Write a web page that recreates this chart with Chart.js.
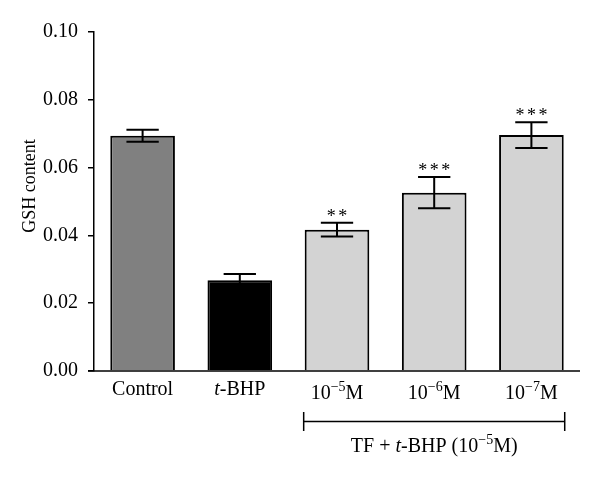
<!DOCTYPE html>
<html>
<head>
<meta charset="utf-8">
<script src="https://cdn.jsdelivr.net/npm/chart.js@4"></script>
<style>
  html, body { margin: 0; padding: 0; background: #fff; }
  #wrap { width: 600px; height: 480px; }
</style>
</head>
<body>
<div id="wrap"><canvas id="gshChart" width="600" height="480"></canvas></div>
<script>
// _x_ = italic, ^x^ = superscript
const categories = ['Control', '_t_-BHP', '10^−5^M', '10^−6^M', '10^−7^M'];
const gshMeans = [0.0694, 0.0268, 0.0417, 0.0526, 0.0696];
const gshErrors = [0.0018, 0.0018, 0.0020, 0.0046, 0.0038];
const significance = ['', '', '**', '***', '***'];
const barColors = ['#808080', '#000000', '#d3d3d3', '#d3d3d3', '#d3d3d3'];
const yTicks = [0, 0.02, 0.04, 0.06, 0.08, 0.10];
const groupFirst = 2;
const groupLast = 4;
const groupLabel = 'TF + _t_-BHP (10^−5^M)';
const yTitle = 'GSH content';

const FONT = '"Liberation Serif", "DejaVu Serif", serif';

function parseRich(s) {
    var segs = [], cur = '', italic = false, sup = false;
    for (var i = 0; i < s.length; i++) {
        var c = s[i];
        if (c === '_' || c === '^') {
            if (cur) segs.push({ t: cur, italic: italic, sup: sup });
            cur = '';
            if (c === '_') italic = !italic; else sup = !sup;
        } else {
            cur += c;
        }
    }
    if (cur) segs.push({ t: cur, italic: italic, sup: sup });
    return segs;
}

function plain(s) { return s.replace(/[_^]/g, ''); }

function drawRich(ctx, s, cx, baseY, size) {
    var segs = parseRich(s);
    var fontFor = function (g) {
        return (g.italic ? 'italic ' : '') + (g.sup ? Math.round(size * 0.68) : size) + 'px ' + FONT;
    };
    var total = 0;
    segs.forEach(function (g) { ctx.font = fontFor(g); g.w = ctx.measureText(g.t).width; total += g.w; });
    var x = cx - total / 2;
    ctx.textAlign = 'left';
    ctx.textBaseline = 'alphabetic';
    segs.forEach(function (g) {
        ctx.font = fontFor(g);
        ctx.fillText(g.t, x, g.sup ? baseY - size * 0.38 : baseY);
        x += g.w;
    });
}

const decorations = {
    id: 'decorations',
    afterDatasetsDraw: function (chart) {
        var ctx = chart.ctx;
        var y = chart.scales.y;
        var area = chart.chartArea;
        var bars = chart.getDatasetMeta(0).data;
        ctx.save();
        ctx.strokeStyle = '#000';
        ctx.fillStyle = '#000';

        // x axis line
        ctx.lineWidth = 1.5;
        ctx.beginPath();
        ctx.moveTo(area.left - 6, y.getPixelForValue(0));
        ctx.lineTo(area.right, y.getPixelForValue(0));
        ctx.stroke();

        // error bars
        ctx.lineWidth = 2;
        bars.forEach(function (bar, i) {
            var top = y.getPixelForValue(gshMeans[i] + gshErrors[i]);
            var bot = y.getPixelForValue(gshMeans[i] - gshErrors[i]);
            var half = bar.width / 4;
            ctx.beginPath();
            ctx.moveTo(bar.x, top); ctx.lineTo(bar.x, bot);
            ctx.moveTo(bar.x - half, top); ctx.lineTo(bar.x + half, top);
            ctx.moveTo(bar.x - half, bot); ctx.lineTo(bar.x + half, bot);
            ctx.stroke();

            // significance stars
            if (significance[i]) {
                var n = significance[i].length;
                ctx.font = '18px ' + FONT;
                ctx.textAlign = 'center';
                ctx.textBaseline = 'alphabetic';
                for (var k = 0; k < n; k++) {
                    ctx.fillText('*', bar.x + (k - (n - 1) / 2) * 11.5, top - 1);
                }
            }

            // category label
            var lbl = categories[i];
            drawRich(ctx, lbl, bar.x, lbl.indexOf('^') >= 0 ? 399 : 395, 20);
        });

        // bracket under grouped categories
        var b0 = bars[groupFirst], b1 = bars[groupLast];
        var x0 = b0.x - b0.width / 2 - 1, x1 = b1.x + b1.width / 2 + 1;
        var by = 421.5;
        ctx.lineWidth = 1.5;
        ctx.beginPath();
        ctx.moveTo(x0, by); ctx.lineTo(x1, by);
        ctx.moveTo(x0, by - 9.5); ctx.lineTo(x0, by + 9.5);
        ctx.moveTo(x1, by - 9.5); ctx.lineTo(x1, by + 9.5);
        ctx.stroke();
        drawRich(ctx, groupLabel, (x0 + x1) / 2, 452, 20);

        // y axis title
        ctx.translate(30, 186);
        ctx.rotate(-Math.PI / 2);
        ctx.font = '18px ' + FONT;
        ctx.textAlign = 'center';
        ctx.textBaseline = 'middle';
        ctx.fillText(yTitle, 0, 0);
        ctx.restore();
    }
};

new Chart(document.getElementById('gshChart'), {
    type: 'bar',
    data: {
        labels: categories.map(plain),
        datasets: [{
            data: gshMeans,
            backgroundColor: barColors,
            borderColor: '#000',
            borderWidth: 2,
            barPercentage: 0.665,
            categoryPercentage: 1
        }]
    },
    options: {
        responsive: false,
        animation: false,
        devicePixelRatio: 1,
        layout: { padding: { top: 32, right: 20, bottom: 109, left: 0 } },
        plugins: { legend: { display: false }, tooltip: { enabled: false } },
        scales: {
            x: { display: false, offset: true },
            y: {
                min: 0,
                max: 0.10,
                afterFit: function (scale) { scale.width = 94; },
                afterBuildTicks: function (scale) { scale.ticks = yTicks.map(function (v) { return { value: v }; }); },
                border: { display: true, color: '#000', width: 1.5 },
                grid: { drawOnChartArea: false, drawTicks: true, tickLength: 6, color: '#000', lineWidth: 1.5 },
                ticks: {
                    color: '#000',
                    padding: 10,
                    font: { family: FONT, size: 20 },
                    callback: function (v) { return v.toFixed(2); }
                }
            }
        }
    },
    plugins: [decorations]
});
</script>
</body>
</html>
